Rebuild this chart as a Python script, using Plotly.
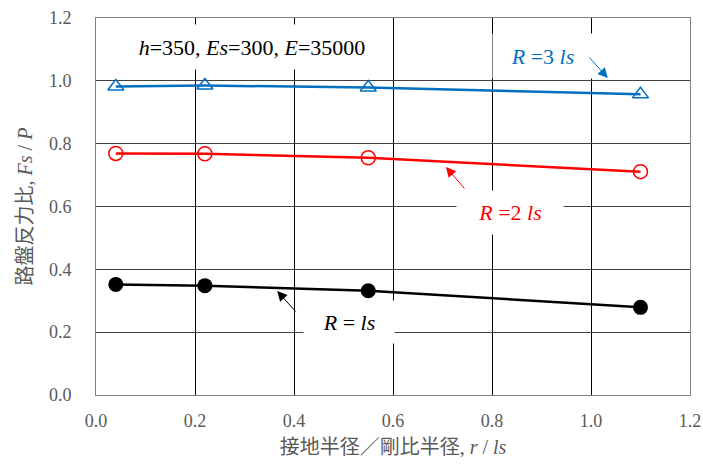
import plotly.graph_objects as go

x_vals = [0.04, 0.22, 0.55, 1.1]
r3_vals = [0.982, 0.985, 0.979, 0.957]
r2_vals = [0.769, 0.768, 0.755, 0.711]
r1_vals = [0.352, 0.348, 0.332, 0.279]
tick_vals = [0.0, 0.2, 0.4, 0.6, 0.8, 1.0, 1.2]
tick_labels = ["0.0", "0.2", "0.4", "0.6", "0.8", "1.0", "1.2"]

BLUE = "#0070C0"
RED = "#FF0000"
GRAY = "#595959"

def serif(s):
    return "<span style='font-family:Liberation Serif'>" + s + "</span>"

def cjk(s):
    return "<span style='font-family:Noto Sans CJK JP'>" + s + "</span>"

fig = go.Figure()
fig.add_trace(go.Scatter(x=x_vals, y=r3_vals, mode="lines+markers",
                         line=dict(color=BLUE, width=2.5),
                         marker=dict(symbol="triangle-up-open", size=14, color=BLUE,
                                     line=dict(width=1.5, color=BLUE))))
fig.add_trace(go.Scatter(x=x_vals, y=r2_vals, mode="lines+markers",
                         line=dict(color=RED, width=2.5),
                         marker=dict(symbol="circle-open", size=14, color=RED,
                                     line=dict(width=1.5, color=RED))))
fig.add_trace(go.Scatter(x=x_vals, y=r1_vals, mode="lines+markers",
                         line=dict(color="black", width=2.5),
                         marker=dict(symbol="circle", size=15, color="black")))

axis_common = dict(range=[0, 1.2], tickvals=tick_vals,
                   ticktext=[serif(t) for t in tick_labels],
                   showline=True, mirror=True, linecolor="#7f7f7f", linewidth=1,
                   ticks="", zeroline=False, showgrid=True, automargin=False,
                   ticklabeloverflow="allow",
                   tickfont=dict(family="Liberation Serif", size=18, color=GRAY))

fig.update_xaxes(**axis_common, gridcolor="black", gridwidth=1, ticklabelstandoff=9,
                 title=dict(text=cjk("接地半径／剛比半径") + serif(", <i>r</i> / <i>ls</i>"),
                            font=dict(size=20, color=GRAY), standoff=7))
fig.update_yaxes(**axis_common, gridcolor="#404040", gridwidth=1, ticklabelstandoff=20,
                 title=dict(text=cjk("路盤反力比") + serif(", <i>Fs</i> / <i>P</i>"),
                            font=dict(size=20, color=GRAY), standoff=10))

def box(text, x, y, w, h, color):
    fig.add_annotation(x=x, y=y, xref="x", yref="y", text=serif(text), showarrow=False,
                       xanchor="center", yanchor="middle", width=w, height=h,
                       bgcolor="white", font=dict(size=22, color=color))

def arrow(hx, hy, tx, ty, color):
    fig.add_annotation(x=hx, y=hy, ax=tx, ay=ty, xref="x", yref="y", axref="x", ayref="y",
                       text="", showarrow=True, arrowhead=2, arrowsize=2,
                       arrowwidth=1, arrowcolor=color)

box("<i>h</i>=350, <i>Es</i>=300, <i>E</i>=35000", 0.315, 1.108, 262, 42, "black")
box("<i>R</i> =3 <i>ls</i>", 0.903, 1.079, 97, 42, BLUE)
box("<i>R</i> =2 <i>ls</i>", 0.836, 0.582, 104, 41, RED)
box("<i>R</i> = <i>ls</i>", 0.511, 0.232, 88, 40, "black")

arrow(1.034, 1.009, 0.994, 1.079, BLUE)
arrow(0.707, 0.726, 0.747, 0.652, RED)
arrow(0.366, 0.331, 0.406, 0.261, "black")

fig.update_layout(width=703, height=467, showlegend=False,
                  margin=dict(l=96, r=13, t=18, b=72),
                  plot_bgcolor="white", paper_bgcolor="white")

fig.write_html("out.html", config={"displayModeBar": False},
               post_script="document.body.style.margin='0';document.body.style.overflow='hidden';")
